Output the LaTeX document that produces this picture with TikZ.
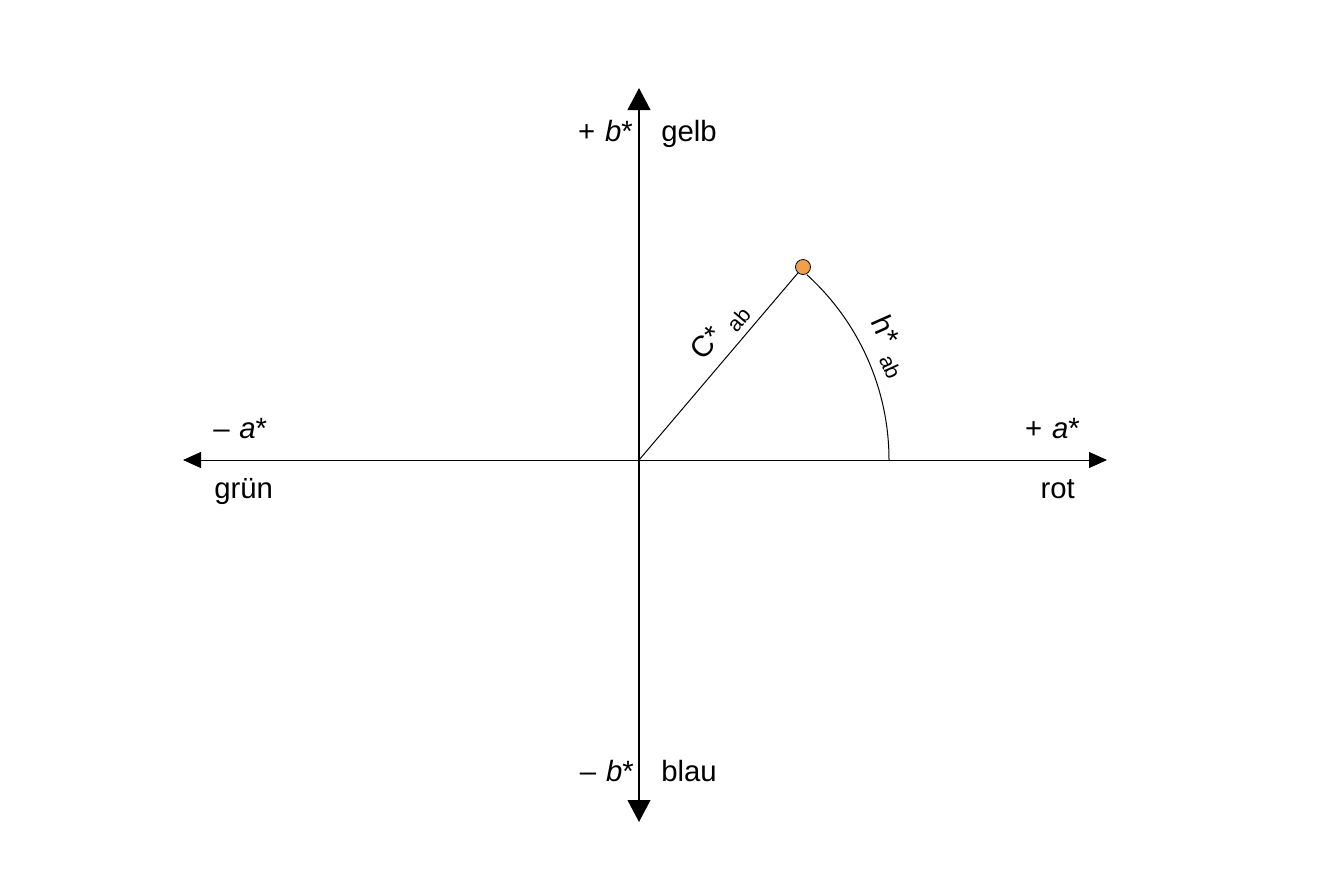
\documentclass[tikz,border=0pt]{standalone}
\usepackage{fontspec}
\setmainfont{Liberation Sans}
\usetikzlibrary{arrows.meta}
\definecolor{dotorange}{HTML}{F0A04B}
\begin{document}
\begin{tikzpicture}[x=0.75pt,y=-0.75pt,
  lbl/.style={font=\fontsize{22}{26}\selectfont, inner sep=0pt},
  vaxis/.style={line width=1.5pt, -{Triangle[length=16.5pt,width=17pt]}},
  haxis/.style={line width=0.75pt, -{Triangle[length=13.5pt,width=12pt]}},
  thin/.style={line width=0.75pt}]
\useasboundingbox[fill=white] (0,0) rectangle (1332,872);
\coordinate (O) at (639,460);
\coordinate (top) at (639,88);
\coordinate (bot) at (639,822);
\coordinate (left) at (183,460);
\coordinate (right) at (1107,460);
\coordinate (arcstart) at (889,460);
\draw[vaxis] (O) -- (top);
\draw[vaxis] (O) -- (bot);
\draw[haxis] (O) -- (left);
\draw[haxis] (O) -- (right);
\node[circle, draw, fill=dotorange, line width=0.6pt, minimum size=11.25pt, inner sep=0pt] (P) at (803,267) {};
\draw[thin] (O) -- (P);
\draw[thin] (arcstart) arc[start angle=0, end angle=-47.8, radius=250];
\node[lbl, anchor=base east] (pb) at (633,141) {+\,\,\textit{b}*};
\node[lbl, anchor=base west] (gelb) at (661,141) {gelb};
\node[lbl, anchor=base east] (mb) at (634,781) {–\,\,\textit{b}*};
\node[lbl, anchor=base west] (blau) at (661,781) {blau};
\node[lbl, anchor=base west] (ma) at (213,438) {–\,\,\textit{a}*};
\node[lbl, anchor=base west] (gruen) at (214,498) {grün};
\node[lbl, anchor=base east] (pa) at (1080,438) {+\,\,\textit{a}*};
\node[lbl, anchor=base east] (rot) at (1075,498) {rot};
\node[lbl, rotate=49.6] (C) at (720,332) {C*\,\,\raisebox{-0.5ex}{\fontsize{16}{19}\selectfont ab}};
\node[lbl, rotate=-66] (h) at (889,347) {h*\,\,\raisebox{-0.5ex}{\fontsize{16}{19}\selectfont ab}};
\end{tikzpicture}
\end{document}
